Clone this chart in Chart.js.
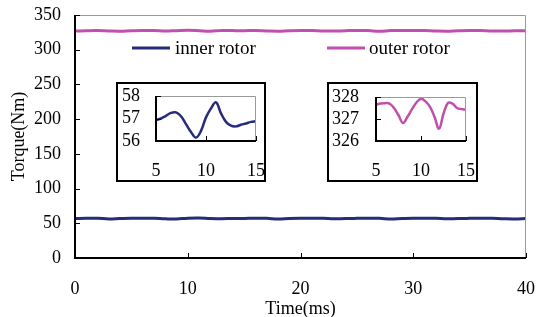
<!DOCTYPE html>
<html>
<head>
<meta charset="utf-8">
<script src="https://cdn.jsdelivr.net/npm/chart.js@4.4.1/dist/chart.umd.min.js"></script>
<style>
  html, body { margin: 0; padding: 0; background: #fff; }
  #wrap { position: relative; width: 537px; height: 317px; }
  #wrap canvas { position: absolute; }
</style>
</head>
<body>
<div id="wrap">
  <canvas id="main" width="537" height="317" style="left:0;top:0"></canvas>
  <canvas id="inset1" width="150" height="100" style="left:116px;top:82px"></canvas>
  <canvas id="inset2" width="151" height="100" style="left:327px;top:82px"></canvas>
</div>
<script>
// main traces, 1 ms steps
const timeMs = [0,1,2,3,4,5,6,7,8,9,10,11,12,13,14,15,16,17,18,19,20,21,22,23,24,25,26,27,28,29,30,31,32,33,34,35,36,37,38,39,40];
const innerTorque = [56.9,57.3,57.2,56.3,56.8,57.2,57.3,57.2,56.5,56.2,57.3,57.6,56.9,56.6,56.9,57.0,57.2,57.1,56.3,56.9,57.2,57.3,57.2,56.4,56.9,57.1,57.2,57.1,56.3,56.8,57.2,57.3,57.2,56.4,56.9,57.1,57.2,57.1,56.5,56.3,57.0];
const outerTorque = [326.8,327.4,327.6,327.0,326.7,327.3,327.7,327.6,326.9,327.4,327.9,327.4,326.6,327.7,327.5,327.4,327.6,327.1,326.7,327.3,327.7,327.6,327.0,326.8,327.4,327.8,327.5,326.7,327.5,327.6,327.5,327.7,327.0,326.7,327.3,327.7,327.5,326.9,326.8,327.2,327.4];

// zoomed window 5..15 ms
const zoomTime = [5,5.5,6,6.5,7,7.5,8,8.5,9,9.5,10,10.5,11,11.5,12,12.5,13,13.5,14,14.5,15];
const innerZoom = [56.93,57.0,57.12,57.25,57.27,57.1,56.75,56.4,56.15,56.45,57.05,57.45,57.72,57.23,56.85,56.68,56.65,56.72,56.78,56.85,56.88];
const outerZoom = [327.65,327.7,327.72,327.7,327.5,327.17,326.82,327.1,327.45,327.75,327.92,327.8,327.55,327.1,326.56,327.24,327.73,327.7,327.5,327.45,327.42];

const legendLabels = ['inner rotor', 'outer rotor'];
const innerColor = '#272b7b';
const outerColor = '#c150ad';
const serif = '"Liberation Serif", "Times New Roman", serif';

Chart.defaults.font.family = serif;
Chart.defaults.color = '#000';

function toPoints(xs, ys) {
    return xs.map((x, i) => ({ x: x, y: ys[i] }));
}

// box around plot area + inward tick marks
const framePlugin = {
    id: 'frame',
    beforeDraw(chart, args, opts) {
        if (opts.outline) {
            const c = chart.ctx;
            c.save();
            c.fillStyle = '#fff';
            c.fillRect(0, 0, chart.width, chart.height);
            c.strokeStyle = '#000';
            c.lineWidth = 2;
            c.strokeRect(1, 1, chart.width - 2, chart.height - 2);
            c.restore();
        }
    },
    afterDraw(chart) {
        const c = chart.ctx;
        const a = chart.chartArea;
        c.save();
        c.strokeStyle = '#9a9a9a';
        c.lineWidth = 1;
        c.beginPath();
        c.moveTo(a.left, a.top + 0.5);
        c.lineTo(a.right - 0.5, a.top + 0.5);
        c.lineTo(a.right - 0.5, a.bottom);
        c.stroke();

        c.strokeStyle = '#000';
        c.lineWidth = 2;
        c.beginPath();
        c.moveTo(a.left, a.top);
        c.lineTo(a.left, a.bottom);
        c.lineTo(a.right, a.bottom);
        c.stroke();

        c.lineWidth = 1;
        c.beginPath();
        const xs = chart.scales.x, ys = chart.scales.y;
        xs.ticks.forEach(t => {
            const px = Math.round(xs.getPixelForValue(t.value)) + 0.5;
            c.moveTo(px, a.bottom);
            c.lineTo(px, a.bottom - 5);
        });
        ys.ticks.forEach(t => {
            const py = Math.round(ys.getPixelForValue(t.value)) + 0.5;
            c.moveTo(a.left, py);
            c.lineTo(a.left + 5, py);
        });
        c.stroke();
        c.restore();
    }
};

// legend drawn inside the plot
const innerLegend = {
    id: 'innerLegend',
    afterDraw(chart) {
        const c = chart.ctx;
        const spots = [[132, 170, 175], [327, 365, 369]];
        c.save();
        c.font = '19px ' + serif;
        c.textBaseline = 'middle';
        c.fillStyle = '#000';
        chart.data.datasets.forEach((ds, i) => {
            const s = spots[i];
            c.strokeStyle = ds.borderColor;
            c.lineWidth = 3;
            c.beginPath();
            c.moveTo(s[0], 48);
            c.lineTo(s[1], 48);
            c.stroke();
            c.fillText(legendLabels[i], s[2], 49);
        });
        c.restore();
    }
};

function axisOpts(min, max, step, pad, fitFn, title) {
    return {
        type: 'linear',
        min: min,
        max: max,
        grid: { display: false, drawTicks: false },
        border: { display: false },
        ticks: { stepSize: step, padding: pad, autoSkip: false, maxRotation: 0, font: { size: 18 }, color: '#000' },
        title: title,
        afterFit: s => {
            fitFn(s);
            // keep label overhang from shrinking the plot
            s.paddingLeft = 0; s.paddingRight = 0; s.paddingTop = 0; s.paddingBottom = 0;
        }
    };
}

new Chart(document.getElementById('main'), {
    type: 'line',
    data: {
        datasets: [
            { label: legendLabels[0], data: toPoints(timeMs, innerTorque), borderColor: innerColor, borderWidth: 3, pointRadius: 0, tension: 0.4 },
            { label: legendLabels[1], data: toPoints(timeMs, outerTorque), borderColor: outerColor, borderWidth: 3, pointRadius: 0, tension: 0.4 }
        ]
    },
    options: {
        responsive: false,
        animation: false,
        devicePixelRatio: 1,
        layout: { padding: { top: 15, right: 11, left: 0, bottom: 0 } },
        plugins: { legend: { display: false }, tooltip: { enabled: false } },
        scales: {
            x: axisOpts(0, 40, 10, 20, s => { s.height = 59; },
                { display: true, text: 'Time(ms)', font: { size: 18 }, padding: { top: 0, bottom: -3 } }),
            y: axisOpts(0, 350, 50, 14, s => { s.width = 75; },
                { display: true, text: 'Torque(Nm)', font: { size: 18 }, padding: { top: 8, bottom: 0 } })
        }
    },
    plugins: [framePlugin, innerLegend]
});

function makeInset(id, ys, color, yMin, yMax, layout, leftW, yPad) {
    new Chart(document.getElementById(id), {
        type: 'line',
        data: {
            datasets: [{ data: toPoints(zoomTime, ys), borderColor: color, borderWidth: 2.5, pointRadius: 0, tension: 0.4 }]
        },
        options: {
            responsive: false,
            animation: false,
            devicePixelRatio: 1,
            layout: { padding: layout },
            plugins: { legend: { display: false }, tooltip: { enabled: false }, frame: { outline: true } },
            scales: {
                x: axisOpts(5, 15, 5, 19, s => { s.height = 41; }, { display: false }),
                y: axisOpts(yMin, yMax, 1, yPad, s => { s.width = leftW; }, { display: false })
            }
        },
        plugins: [framePlugin]
    });
}

makeInset('inset1', innerZoom, innerColor, 56, 58, { top: 14, right: 10, left: 0, bottom: 0 }, 40, 16);
makeInset('inset2', outerZoom, outerColor, 326, 328, { top: 15, right: 12, left: 0, bottom: 0 }, 49, 17);
</script>
</body>
</html>
